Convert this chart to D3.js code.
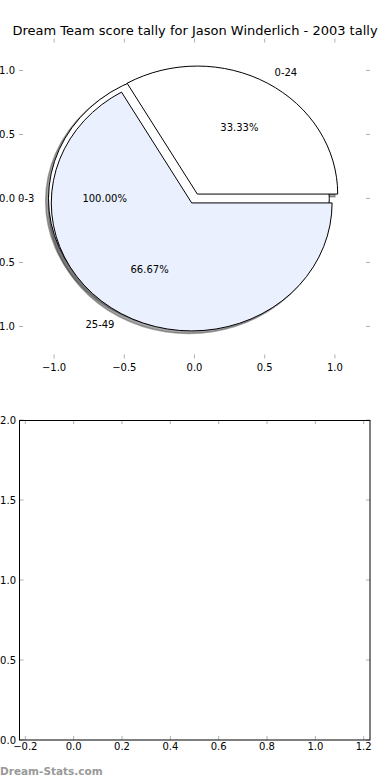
<!DOCTYPE html>
<html>
<head>
<meta charset="utf-8">
<script src="https://cdn.jsdelivr.net/npm/d3@7"></script>
<style>
  body { margin: 0; background: #fff; }
  svg { display: block; font-family: "DejaVu Sans", sans-serif; }
</style>
</head>
<body>
<svg id="chart" width="390" height="780"></svg>
<script>
// pie data (two pie calls drawn on the same axes)
var fullLabels = ['0-3'];
var fullValues = [1];
var fullPct = ['100.00%'];
var splitLabels = ['0-24', '25-49'];
var splitValues = [1, 2];
var splitPct = ['33.33%', '66.67%'];
var pieTicks = [-1.0, -0.5, 0.0, 0.5, 1.0];

// empty lower axes
var lowerXTicks = [-0.2, 0.0, 0.2, 0.4, 0.6, 0.8, 1.0, 1.2];
var lowerYTicks = [0.0, 0.5, 1.0, 1.5, 2.0];

var fullColors = ['#ffffff'];
var splitColors = ['#ffffff', '#eaf0fd'];
var explode = 0.04;

var svg = d3.select('#chart');
var fmt = d => d3.format('.1f')(d).replace('-', '\u2212');

svg.append('text')
    .attr('x', 195).attr('y', 35)
    .attr('text-anchor', 'middle')
    .style('font-size', '13px')
    .text('Dream Team score tally for Jason Winderlich - 2003 tally');

// ---- top (pie) axes ----
var x = d3.scaleLinear().domain([-1.25, 1.25]).range([19, 370]);
var y = d3.scaleLinear().domain([-1.25, 1.25]).range([358.5, 38.5]);
var kx = x(1) - x(0), ky = y(0) - y(1);

function inwardTicks(g, xs, ys, xT, yT, x0, x1, y0, y1) {
    xT.forEach(t => {
        g.append('line').attr('x1', xs(t)).attr('x2', xs(t)).attr('y1', y1).attr('y2', y1 + 4);
        g.append('line').attr('x1', xs(t)).attr('x2', xs(t)).attr('y1', y0).attr('y2', y0 - 4);
    });
    yT.forEach(t => {
        g.append('line').attr('x1', x0).attr('x2', x0 + 4).attr('y1', ys(t)).attr('y2', ys(t));
        g.append('line').attr('x1', x1).attr('x2', x1 - 4).attr('y1', ys(t)).attr('y2', ys(t));
    });
    g.selectAll('line').attr('stroke', '#b0b0b0').attr('stroke-width', 1);
}

inwardTicks(svg.append('g'), x, y, pieTicks, pieTicks, x.range()[0], x.range()[1], y.range()[0], y.range()[1]);

svg.append('g').selectAll('text').data(pieTicks).enter().append('text')
    .attr('x', d => x(d)).attr('y', y.range()[0] + 12)
    .attr('text-anchor', 'middle').style('font-size', '10px')
    .text(fmt);
svg.append('g').selectAll('text').data(pieTicks).enter().append('text')
    .attr('x', 15).attr('y', d => y(d) + 3.5)
    .attr('text-anchor', 'end').style('font-size', '10px')
    .text(fmt);

var arc = d3.arc().innerRadius(0).outerRadius(1);
// counterclockwise from 3 o'clock, like matplotlib
var pie = d3.pie().sort(null).startAngle(Math.PI / 2).endAngle(Math.PI / 2 - 2 * Math.PI);

function wedges(values, labels, pcts, colors) {
    return pie(values).map((a, i) => {
        var m = (a.startAngle + a.endAngle) / 2;
        var dx = Math.sin(m), dy = Math.cos(m);
        return { arc: a, dx: dx, dy: dy, cx: explode * dx, cy: explode * dy,
                 label: labels[i], pct: pcts[i], color: colors[i] };
    });
}

var all = wedges(fullValues, fullLabels, fullPct, fullColors)
    .concat(wedges(splitValues, splitLabels, splitPct, splitColors));

var pieG = svg.append('g');
// shadows first
all.forEach(w => {
    pieG.append('path')
        .attr('d', arc(w.arc))
        .attr('transform', `translate(${x(w.cx - 0.02)},${y(w.cy - 0.02)}) scale(${kx},${ky})`)
        .attr('fill', '#4d4d4d').attr('fill-opacity', 0.5)
        .attr('stroke', '#4d4d4d').attr('stroke-opacity', 0.5)
        .attr('stroke-width', 1.5).attr('vector-effect', 'non-scaling-stroke');
});
all.forEach(w => {
    pieG.append('path')
        .attr('d', arc(w.arc))
        .attr('transform', `translate(${x(w.cx)},${y(w.cy)}) scale(${kx},${ky})`)
        .attr('fill', w.color)
        .attr('stroke', '#000').attr('stroke-width', 1)
        .attr('stroke-linejoin', 'miter')
        .attr('vector-effect', 'non-scaling-stroke');
});
all.forEach(w => {
    var lx = w.cx + 1.1 * w.dx, ly = w.cy + 1.1 * w.dy;
    pieG.append('text')
        .attr('x', x(lx)).attr('y', y(ly) + 3.5)
        .attr('text-anchor', lx < 0 ? 'end' : 'start')
        .style('font-size', '10px')
        .text(w.label);
    pieG.append('text')
        .attr('x', x(w.cx + 0.6 * w.dx)).attr('y', y(w.cy + 0.6 * w.dy) + 3.5)
        .attr('text-anchor', 'middle')
        .style('font-size', '10px')
        .text(w.pct);
});

// ---- bottom (empty) axes ----
var x2 = d3.scaleLinear().domain([-0.224, 1.226]).range([19.5, 370]);
var y2 = d3.scaleLinear().domain([0, 2]).range([740, 420]);

inwardTicks(svg.append('g'), x2, y2, lowerXTicks, lowerYTicks, 19.5, 370, 740, 420);

svg.append('rect')
    .attr('x', 19.5).attr('y', 420.5).attr('width', 350.5).attr('height', 319.5)
    .attr('fill', 'none').attr('stroke', '#000').attr('stroke-width', 1);

svg.append('g').selectAll('text').data(lowerXTicks).enter().append('text')
    .attr('x', d => x2(d)).attr('y', 750)
    .attr('text-anchor', 'middle').style('font-size', '10px')
    .text(fmt);
svg.append('g').selectAll('text').data(lowerYTicks).enter().append('text')
    .attr('x', 16).attr('y', d => y2(d) + 3.5)
    .attr('text-anchor', 'end').style('font-size', '10px')
    .text(fmt);

svg.append('text')
    .attr('x', 0).attr('y', 775)
    .style('font-size', '10.5px').style('font-weight', 'bold')
    .attr('fill', '#999')
    .text('Dream-Stats.com');
</script>
</body>
</html>
